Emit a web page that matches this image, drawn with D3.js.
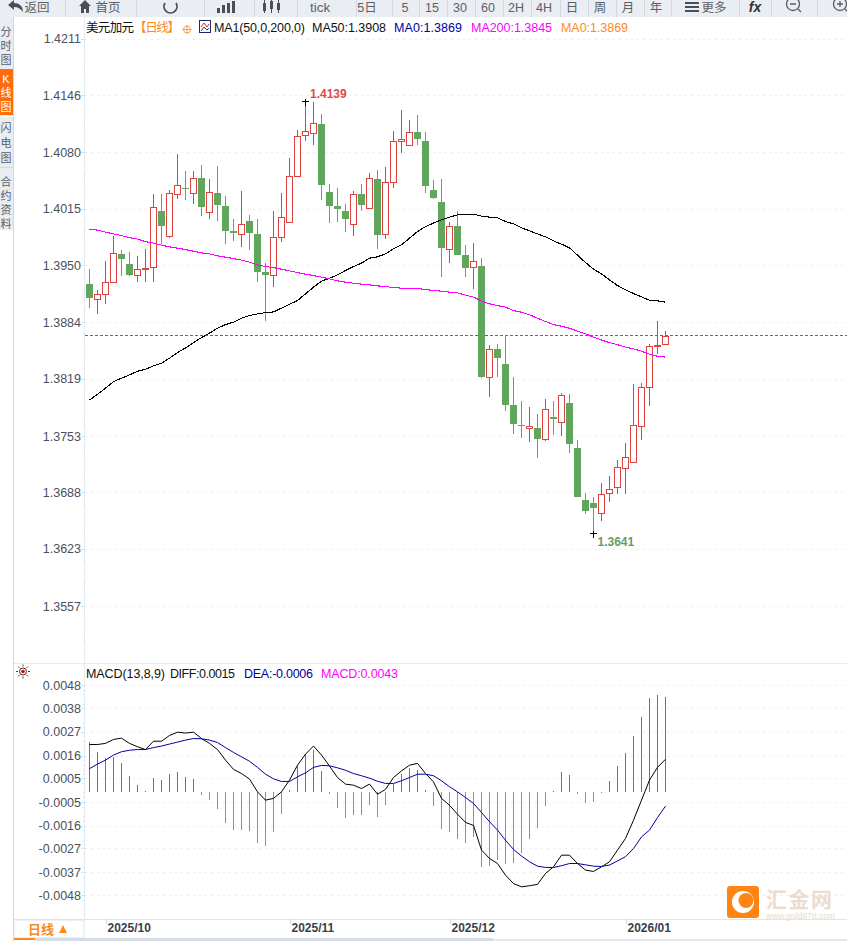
<!DOCTYPE html>
<html>
<head>
<meta charset="utf-8">
<title>美元加元 日线</title>
<script src="https://cdn.jsdelivr.net/npm/d3@7"></script>
<style>
    html, body { margin: 0; padding: 0; background: #fff; }
    svg { display: block; }
    text { font-family: "Liberation Sans", "Noto Sans CJK SC", sans-serif; }
</style>
</head>
<body>
<div id="chart"></div>
<script>
// --- Data ---
const opens = [1.39284, 1.39108, 1.39166, 1.39304, 1.39630, 1.39515, 1.39385, 1.39454, 1.39477, 1.40126,
    1.39841, 1.40319, 1.40388, 1.40337, 1.40507, 1.40111, 1.40334, 1.40184, 1.39892, 1.39858,
    1.40011, 1.39861, 1.39423, 1.39385, 1.39823, 1.40003, 1.40527, 1.41003, 1.41023, 1.41130,
    1.40345, 1.40184, 1.40126, 1.39973, 1.40322, 1.40164, 1.40495, 1.39858, 1.40457, 1.40930,
    1.40884, 1.41034, 1.40930, 1.40369, 1.40230, 1.39685, 1.39953, 1.39619, 1.39477, 1.39492,
    1.38208, 1.38535, 1.38362, 1.37889, 1.37662, 1.37627, 1.37623, 1.37493, 1.37750, 1.37689,
    1.37912, 1.37393, 1.36793, 1.36758, 1.36640, 1.36870, 1.36939, 1.37159, 1.37228, 1.37650,
    1.38093, 1.38566, 1.38589];
const closes = [1.39126, 1.39166, 1.39304, 1.39638, 1.39576, 1.39388, 1.39454, 1.39465, 1.40169, 1.39957,
    1.40330, 1.40423, 1.40380, 1.40504, 1.40176, 1.40342, 1.40199, 1.39899, 1.39876, 1.39973,
    1.39876, 1.39426, 1.39392, 1.39823, 1.40054, 1.40527, 1.40988, 1.41046, 1.41138, 1.40430,
    1.40187, 1.40149, 1.40038, 1.40319, 1.40199, 1.40504, 1.39853, 1.40457, 1.40930, 1.40953,
    1.41034, 1.40960, 1.40407, 1.40280, 1.39703, 1.39950, 1.39622, 1.39472, 1.39546, 1.38215,
    1.38531, 1.38434, 1.37892, 1.37673, 1.37655, 1.37643, 1.37500, 1.37839, 1.37731, 1.38001,
    1.37442, 1.36831, 1.36670, 1.36701, 1.36859, 1.36916, 1.37170, 1.37286, 1.37655, 1.38093,
    1.38566, 1.38581, 1.38680];
const highs = [1.39457, 1.39215, 1.39550, 1.39838, 1.39676, 1.39650, 1.39607, 1.39688, 1.40322, 1.40322,
    1.40369, 1.40784, 1.40588, 1.40588, 1.40657, 1.40495, 1.40645, 1.40299, 1.40034, 1.40357,
    1.40080, 1.40034, 1.39523, 1.40126, 1.40334, 1.40734, 1.41061, 1.41390, 1.41384, 1.41245,
    1.40438, 1.40392, 1.40207, 1.40357, 1.40438, 1.40561, 1.40599, 1.40630, 1.41049, 1.41291,
    1.41176, 1.41234, 1.41038, 1.40484, 1.40495, 1.39999, 1.40123, 1.39734, 1.39754, 1.39584,
    1.38581, 1.38592, 1.38696, 1.38212, 1.37935, 1.37866, 1.37785, 1.37958, 1.37935, 1.38024,
    1.38016, 1.37485, 1.36874, 1.36828, 1.36989, 1.37070, 1.37254, 1.37450, 1.38131, 1.38139,
    1.38592, 1.38858, 1.38742];
const lows = [1.39008, 1.38938, 1.39054, 1.39304, 1.39377, 1.39377, 1.39311, 1.39311, 1.39311, 1.39746,
    1.39811, 1.40268, 1.40253, 1.40207, 1.40069, 1.40038, 1.40011, 1.39746, 1.39780, 1.39711,
    1.39676, 1.39311, 1.38861, 1.39253, 1.39769, 1.39991, 1.40527, 1.40926, 1.40888, 1.40253,
    1.39991, 1.39999, 1.39888, 1.39841, 1.40130, 1.40146, 1.39692, 1.39800, 1.40384, 1.40799,
    1.40884, 1.40891, 1.40337, 1.40265, 1.39369, 1.39530, 1.39622, 1.39369, 1.39230, 1.38204,
    1.37984, 1.38215, 1.37823, 1.37554, 1.37512, 1.37462, 1.37277, 1.37474, 1.37543, 1.37531,
    1.37335, 1.36831, 1.36632, 1.36410, 1.36554, 1.36770, 1.36866, 1.36866, 1.37228, 1.37489,
    1.37877, 1.38477, 1.38589];

const ma50 = [1.37943, 1.38012, 1.38081, 1.38157, 1.38197, 1.38235, 1.38277, 1.38300, 1.38339, 1.38370,
    1.38427, 1.38492, 1.38546, 1.38607, 1.38665, 1.38716, 1.38773, 1.38815, 1.38843, 1.38889,
    1.38919, 1.38938, 1.38953, 1.38961, 1.39004, 1.39050, 1.39092, 1.39169, 1.39246, 1.39315,
    1.39350, 1.39388, 1.39438, 1.39484, 1.39523, 1.39581, 1.39596, 1.39630, 1.39688, 1.39734,
    1.39811, 1.39888, 1.39945, 1.39985, 1.40023, 1.40054, 1.40080, 1.40088, 1.40088, 1.40065,
    1.40054, 1.40046, 1.40003, 1.39976, 1.39930, 1.39896, 1.39861, 1.39826, 1.39780, 1.39742,
    1.39700, 1.39615, 1.39530, 1.39454, 1.39400, 1.39330, 1.39265, 1.39215, 1.39173, 1.39134,
    1.39096, 1.39088, 1.39073];
const ma200 = [1.39915, 1.39904, 1.39881, 1.39861, 1.39841, 1.39818, 1.39800, 1.39772, 1.39754, 1.39731,
    1.39711, 1.39696, 1.39680, 1.39661, 1.39642, 1.39630, 1.39607, 1.39592, 1.39576, 1.39558,
    1.39535, 1.39503, 1.39484, 1.39472, 1.39454, 1.39434, 1.39415, 1.39396, 1.39380, 1.39362,
    1.39342, 1.39319, 1.39304, 1.39292, 1.39281, 1.39273, 1.39261, 1.39253, 1.39242, 1.39235,
    1.39235, 1.39230, 1.39219, 1.39207, 1.39200, 1.39189, 1.39181, 1.39154, 1.39131, 1.39088,
    1.39054, 1.39034, 1.39016, 1.38976, 1.38958, 1.38927, 1.38889, 1.38850, 1.38815, 1.38796,
    1.38773, 1.38739, 1.38708, 1.38670, 1.38638, 1.38607, 1.38584, 1.38554, 1.38535, 1.38508,
    1.38474, 1.38450, 1.38439];

const macdDiff = [0.00215, 0.00215, 0.00220, 0.00238, 0.00244, 0.00220, 0.00205, 0.00192, 0.00230, 0.00230,
    0.00256, 0.00271, 0.00267, 0.00271, 0.00242, 0.00220, 0.00192, 0.00144, 0.00102, 0.00083,
    0.00058, 0, -0.00038, -0.00030, 0, 0.00053, 0.00121, 0.00171, 0.00208, 0.00167,
    0.00117, 0.00065, 0.00035, 0.00030, 0.00015, 0.00035, -0.00011, 0.00011, 0.00065, 0.00095,
    0.00121, 0.00129, 0.00083, 0.00045, -0.00030, -0.00061, -0.00102, -0.00139, -0.00153, -0.00265,
    -0.00303, -0.00326, -0.00379, -0.00417, -0.00432, -0.00427, -0.00421, -0.00371, -0.00341, -0.00288,
    -0.00288, -0.00326, -0.00356, -0.00362, -0.00341, -0.00318, -0.00265, -0.00212, -0.00129, -0.00038,
    0.00053, 0.00111, 0.00148];
const macdDea = [0.00105, 0.00126, 0.00144, 0.00167, 0.00182, 0.00189, 0.00192, 0.00192, 0.00201, 0.00208,
    0.00217, 0.00226, 0.00235, 0.00242, 0.00241, 0.00235, 0.00224, 0.00201, 0.00179, 0.00159,
    0.00139, 0.00111, 0.00080, 0.00059, 0.00047, 0.00047, 0.00068, 0.00086, 0.00111, 0.00120,
    0.00118, 0.00109, 0.00098, 0.00083, 0.00073, 0.00062, 0.00048, 0.00038, 0.00038, 0.00050,
    0.00065, 0.00080, 0.00080, 0.00073, 0.00050, 0.00023, 0, -0.00026, -0.00053, -0.00094,
    -0.00136, -0.00174, -0.00220, -0.00262, -0.00292, -0.00318, -0.00338, -0.00344, -0.00344, -0.00336,
    -0.00326, -0.00326, -0.00332, -0.00338, -0.00339, -0.00333, -0.00314, -0.00295, -0.00258, -0.00205,
    -0.00174, -0.00117, -0.00065];
const macdHist = [0.00227, 0.00182, 0.00153, 0.00159, 0.00132, 0.00071, 0.00030, 0.00003, 0.00064, 0.00053,
    0.00080, 0.00089, 0.00067, 0.00058, -0.00015, -0.00038, -0.00079, -0.00142, -0.00174, -0.00174,
    -0.00179, -0.00233, -0.00247, -0.00183, -0.00102, 0.00008, 0.00117, 0.00171, 0.00192, 0.00095,
    -0.00012, -0.00074, -0.00118, -0.00106, -0.00106, -0.00061, -0.00114, -0.00061, 0.00035, 0.00083,
    0.00106, 0.00098, 0.00008, -0.00064, -0.00170, -0.00182, -0.00215, -0.00232, -0.00205, -0.00341,
    -0.00336, -0.00311, -0.00329, -0.00323, -0.00280, -0.00215, -0.00165, -0.00064, 0.00003, 0.00089,
    0.00076, -0.00008, -0.00050, -0.00045, -0.00005, 0.00048, 0.00117, 0.00176, 0.00253, 0.00339,
    0.00426, 0.00439, 0.00430];

const priceTicks = [1.4211, 1.4146, 1.4080, 1.4015, 1.3950, 1.3884, 1.3819, 1.3753, 1.3688, 1.3623, 1.3557];
const macdTicks = [0.00485, 0.00380, 0.00273, 0.00165, 0.00061, -0.00048, -0.00154, -0.00257, -0.00365, -0.00471];
const macdTickLabels = ["0.0048", "0.0038", "0.0027", "0.0016", "0.0005", "-0.0005", "-0.0016", "-0.0027", "-0.0037", "-0.0048"];
const dateTickIndex = [2, 25, 45, 67];
const dateTickLabels = ["2025/10", "2025/11", "2025/12", "2026/01"];

const lastPrice = 1.3869;
const highLabel = "1.4139";
const lowLabel = "1.3641";

// Colours
const red = "#db4440";
const green = "#60a65c";
const histRed = "#c4524c";
const histGreen = "#6fa566";
const orange = "#fb8a1e";
const magenta = "#ff00ff";
const navy = "#0000a0";

const width = 847;
const height = 941;
const plotLeft = 85;

const svg = d3.select("#chart").append("svg")
    .attr("width", width)
    .attr("height", height);

// Scales
const x = d3.scaleLinear().domain([0, opens.length - 1]).range([89.5, 665.5]);
const yPrice = d3.scaleLinear().domain([1.3557, 1.4211]).range([606, 38.8]);
const yMacd = d3.scaleLinear().domain([-0.0048, 0.0048]).range([897.4, 686.2]);

// --- Frame ---
svg.append("rect").attr("x", 0).attr("y", 17).attr("width", 14).attr("height", 213).attr("fill", "#e9ecf1");
svg.append("rect").attr("x", 13).attr("y", 17).attr("width", 1).attr("height", 924).attr("fill", "#cfd9e4");
svg.append("rect").attr("x", 84).attr("y", 17).attr("width", 1).attr("height", 903).attr("fill", "#e3ebf2");
svg.append("rect").attr("x", 14).attr("y", 663).attr("width", width - 14).attr("height", 1).attr("fill", "#e6ebf1");
svg.append("rect").attr("x", 14).attr("y", 919).attr("width", width - 14).attr("height", 1).attr("fill", "#e1e5ea");

// --- Price panel ---
function drawAxis(scale, ticks, labels, minorCount) {
    const axis = svg.append("g")
        .attr("transform", `translate(${plotLeft},0)`)
        .call(d3.axisLeft(scale)
            .tickValues(ticks)
            .tickSize(4)
            .tickPadding(0)
            .tickFormat((d, i) => labels[i]));
    axis.select(".domain").remove();
    axis.selectAll("line").attr("stroke", "#cfe3f2").attr("shape-rendering", "crispEdges");
    axis.selectAll("text")
        .attr("font-size", 12.5)
        .attr("font-family", "Liberation Sans")
        .attr("fill", "#4a5160");

    // dotted grid lines
    svg.append("g")
        .selectAll("line")
        .data(ticks)
        .join("line")
        .attr("x1", plotLeft)
        .attr("x2", width)
        .attr("y1", d => Math.round(scale(d)) + 0.5)
        .attr("y2", d => Math.round(scale(d)) + 0.5)
        .attr("stroke", "#ececec")
        .attr("stroke-dasharray", "2,4");

    // small ticks between the labelled ones
    const step = (ticks[0] - ticks[ticks.length - 1]) / (ticks.length - 1) / (minorCount + 1);
    const minor = [];
    ticks.forEach(t => d3.range(1, minorCount + 1).forEach(k => minor.push(t - k * step)));
    svg.append("g")
        .selectAll("rect")
        .data(minor)
        .join("rect")
        .attr("x", plotLeft - 2)
        .attr("y", d => Math.round(scale(d)))
        .attr("width", 2)
        .attr("height", 1)
        .attr("fill", "#dfe7ee");
}

drawAxis(yPrice, priceTicks, priceTicks.map(d3.format(".4f")), 4);

// last price line
svg.append("line")
    .attr("x1", plotLeft)
    .attr("x2", width)
    .attr("y1", Math.round(yPrice(lastPrice)) + 0.5)
    .attr("y2", Math.round(yPrice(lastPrice)) + 0.5)
    .attr("stroke", "#0080ff")
    .attr("stroke-width", 1)
    .attr("stroke-dasharray", "3,2")
    .attr("shape-rendering", "crispEdges");

const candles = d3.range(opens.length).map(i => ({
    i: i,
    open: opens[i],
    close: closes[i],
    high: highs[i],
    low: lows[i],
    up: closes[i] >= opens[i]
}));

const candle = svg.append("g")
    .attr("shape-rendering", "crispEdges")
    .selectAll("g")
    .data(candles)
    .join("g");

candle.append("line")
    .attr("x1", d => x(d.i))
    .attr("x2", d => x(d.i))
    .attr("y1", d => Math.round(yPrice(d.high)))
    .attr("y2", d => Math.round(yPrice(d.low)))
    .attr("stroke", d => d.up ? red : green);

candle.append("rect")
    .attr("x", d => d.up ? x(d.i) - 3 : x(d.i) - 3.5)
    .attr("y", d => Math.round(yPrice(Math.max(d.open, d.close))) + (d.up ? 0.5 : 0))
    .attr("width", d => d.up ? 6 : 7)
    .attr("height", d => Math.max(Math.round(yPrice(Math.min(d.open, d.close))) - Math.round(yPrice(Math.max(d.open, d.close))), 1))
    .attr("fill", d => d.up ? "#fff" : green)
    .attr("stroke", d => d.up ? red : "none");

const priceLine = series => d3.line()
    .x((d, i) => x(i))
    .y(d => yPrice(d))(series);

svg.append("path")
    .attr("d", priceLine(ma50))
    .attr("fill", "none")
    .attr("stroke", "#000")
    .attr("stroke-width", 1.1)
    .attr("shape-rendering", "crispEdges");

svg.append("path")
    .attr("d", priceLine(ma200))
    .attr("fill", "none")
    .attr("stroke", magenta)
    .attr("stroke-width", 1.1)
    .attr("shape-rendering", "crispEdges");

// high / low markers
const highIndex = d3.greatestIndex(highs);
const lowIndex = d3.leastIndex(lows);

function crossMark(px, py) {
    svg.append("path")
        .attr("d", `M${px - 3},${py}H${px + 4}M${px + 0.5},${py - 3}V${py + 4}`)
        .attr("stroke", "#000")
        .attr("shape-rendering", "crispEdges");
}
crossMark(Math.floor(x(highIndex)), Math.round(yPrice(highs[highIndex])) + 0.5);
crossMark(Math.floor(x(lowIndex)), Math.round(yPrice(lows[lowIndex])) + 0.5);

svg.append("text")
    .attr("x", x(highIndex) + 4.5)
    .attr("y", yPrice(highs[highIndex]) - 3.5)
    .attr("font-size", 12)
    .attr("font-weight", "bold")
    .attr("fill", "#e0494a")
    .text(highLabel);

svg.append("text")
    .attr("x", x(lowIndex) + 4)
    .attr("y", yPrice(lows[lowIndex]) + 12.5)
    .attr("font-size", 12)
    .attr("font-weight", "bold")
    .attr("fill", "#5fa064")
    .text(lowLabel);

// price legend
function legend(items, y, size) {
    const group = svg.append("g").attr("font-size", size);
    items.forEach(item => {
        group.append("text")
            .attr("x", item.x)
            .attr("y", y)
            .attr("fill", item.color)
            .attr("textLength", item.w)
            .text(item.text);
    });
}

legend([
    { text: "美元加元", x: 86, w: 48, color: "#111" },
    { text: "【日线】", x: 134, w: 46, color: orange },
    { text: "MA1(50,0,200,0)", x: 214, w: 91, color: "#111" },
    { text: "MA50:1.3908", x: 312, w: 74, color: "#111" },
    { text: "MA0:1.3869", x: 394, w: 68, color: navy },
    { text: "MA200:1.3845", x: 471, w: 81, color: magenta },
    { text: "MA0:1.3869", x: 561, w: 67, color: orange }
], 32, 12.5);

// small crosshair circle after the title
svg.append("g")
    .attr("fill", "none")
    .attr("stroke", orange)
    .attr("stroke-width", 0.8)
    .call(g => g.append("circle").attr("cx", 187).attr("cy", 29.5).attr("r", 3.5))
    .call(g => g.append("path").attr("d", "M182.5,29.5H191.5M187,25V34"));

// MA icon
const maIcon = svg.append("g").attr("transform", "translate(199,20)");
maIcon.append("rect").attr("x", 0.5).attr("y", 0.5).attr("width", 11).attr("height", 12).attr("fill", "#fff").attr("stroke", "#1c2b6b");
maIcon.append("path").attr("d", "M2,7L5,3L8,7L10,4").attr("fill", "none").attr("stroke", "#d03030").attr("stroke-width", 1);
maIcon.append("path").attr("d", "M2,11L5,7L8,10L10,8").attr("fill", "none").attr("stroke", "#2040b0").attr("stroke-width", 1);

// --- MACD panel ---
drawAxis(yMacd, macdTicks, macdTickLabels, 4);

svg.append("g")
    .attr("shape-rendering", "crispEdges")
    .selectAll("line")
    .data(macdHist)
    .join("line")
    .attr("x1", (d, i) => x(i))
    .attr("x2", (d, i) => x(i))
    .attr("y1", yMacd(0))
    .attr("y2", d => yMacd(d))
    .attr("stroke", d => d >= 0 ? histRed : histGreen);

const macdLine = series => d3.line()
    .x((d, i) => x(i))
    .y(d => yMacd(d))(series);

svg.append("path")
    .attr("d", macdLine(macdDiff))
    .attr("fill", "none")
    .attr("stroke", "#000")
    .attr("stroke-width", 1);

svg.append("path")
    .attr("d", macdLine(macdDea))
    .attr("fill", "none")
    .attr("stroke", navy)
    .attr("stroke-width", 1);

legend([
    { text: "MACD(13,8,9)", x: 86, w: 79, color: "#111" },
    { text: "DIFF:0.0015", x: 170, w: 65, color: "#111" },
    { text: "DEA:-0.0006", x: 244, w: 69, color: navy },
    { text: "MACD:0.0043", x: 321, w: 77, color: magenta }
], 677.5, 12.5);

// sun icon next to the MACD panel
const sun = svg.append("g").attr("transform", "translate(23,671.5)");
sun.append("circle").attr("r", 3.5).attr("fill", "#fff").attr("stroke", "#000").attr("stroke-width", 0.8);
sun.append("circle").attr("r", 1.8).attr("fill", "#e00000");
sun.selectAll("line")
    .data(d3.range(8))
    .join("line")
    .attr("x1", d => 5 * Math.cos(d * Math.PI / 4))
    .attr("y1", d => 5 * Math.sin(d * Math.PI / 4))
    .attr("x2", d => 7 * Math.cos(d * Math.PI / 4))
    .attr("y2", d => 7 * Math.sin(d * Math.PI / 4))
    .attr("stroke", "#e00000");

// --- Date axis ---
const dateAxis = svg.append("g")
    .attr("transform", "translate(0,919)")
    .call(d3.axisBottom(x)
        .tickValues(dateTickIndex)
        .tickSize(6)
        .tickPadding(0)
        .tickFormat((d, i) => dateTickLabels[i]));
dateAxis.select(".domain").remove();
dateAxis.selectAll("line").attr("stroke", "#d5dbe2").attr("shape-rendering", "crispEdges");
dateAxis.selectAll("text")
    .attr("font-size", 12)
    .attr("font-weight", "bold")
    .attr("font-family", "Liberation Sans")
    .attr("fill", "#3a3f4a")
    .attr("text-anchor", "start")
    .attr("dx", 1.5)
    .attr("y", 4)
    .attr("dy", "0.71em");

// period tab under the axis
svg.append("rect").attr("x", 14).attr("y", 920).attr("width", 70).attr("height", 18)
    .attr("fill", "#fff").attr("stroke", "#dde2e8");
svg.append("text").attr("x", 28).attr("y", 934).attr("font-size", 13).attr("font-weight", "bold").attr("fill", orange).text("日线");
svg.append("path").attr("d", "M59,933L63,925L67,933Z").attr("fill", orange);
svg.append("rect").attr("x", 14).attr("y", 938).attr("width", 21).attr("height", 2).attr("fill", orange);
svg.append("rect").attr("x", 35).attr("y", 938).attr("width", 458).attr("height", 3).attr("fill", "#d5dce5");
svg.append("rect").attr("x", 493).attr("y", 939).attr("width", width - 493).attr("height", 2).attr("fill", "#e4e8ee");

// --- Side tabs ---
svg.append("rect").attr("x", 0).attr("y", 69).attr("width", 13).attr("height", 46).attr("fill", "#ff6c0a");
svg.append("rect").attr("x", 0).attr("y", 116).attr("width", 13).attr("height", 1).attr("fill", "#fff");
svg.append("rect").attr("x", 0).attr("y", 167).attr("width", 13).attr("height", 1).attr("fill", "#d7dbe1");

const sideTabs = [
    { chars: "分时图", ys: [36, 50, 64], color: "#5a5f68" },
    { chars: "K线图", ys: [83, 97, 111], color: "#fff" },
    { chars: "闪电图", ys: [132, 147, 162], color: "#5a5f68" },
    { chars: "合约资料", ys: [186, 200, 214, 228], color: "#5a5f68" }
];
sideTabs.forEach(tab => {
    Array.from(tab.chars).forEach((ch, i) => {
        svg.append("text")
            .attr("x", 6)
            .attr("y", tab.ys[i])
            .attr("text-anchor", "middle")
            .attr("font-size", 11)
            .attr("fill", tab.color)
            .text(ch);
    });
});

// --- Toolbar ---
svg.append("rect").attr("x", 0).attr("y", 0).attr("width", width).attr("height", 17).attr("fill", "#eaedf2");
const toolbarDividers = [65, 136, 204, 254, 297, 356, 392, 419, 447, 475, 503, 531, 560, 588, 616, 644, 671, 739, 771, 817];
svg.append("g")
    .selectAll("rect")
    .data(toolbarDividers)
    .join("rect")
    .attr("x", d => d)
    .attr("y", 0)
    .attr("width", 1)
    .attr("height", 17)
    .attr("fill", "#d3d7de");

const toolbarLabels = [
    ["返回", 37], ["首页", 108], ["tick", 320], ["5日", 367], ["5", 405], ["15", 432], ["30", 460],
    ["60", 488], ["2H", 516], ["4H", 544], ["日", 572], ["周", 600], ["月", 628], ["年", 656], ["更多", 714]
];
svg.append("g")
    .selectAll("text")
    .data(toolbarLabels)
    .join("text")
    .attr("x", d => d[1])
    .attr("y", 12)
    .attr("text-anchor", "middle")
    .attr("font-size", d => d[0] === "tick" ? 13.5 : 12.5)
    .attr("fill", "#5a5f68")
    .text(d => d[0]);

const icons = svg.append("g").attr("fill", "#4a4f57");
// back arrow
icons.append("path").attr("d", "M8,5L14,0V3C19,3 23,6 23,12C21,9 18,7 14,7V10Z");
// home
icons.append("path").attr("d", "M79,6L85,0L91,6H89V13H86V9H84V13H81V6Z");
// refresh
icons.append("path").attr("d", "M176,3A6.5,6.5 0 1 1 165,3").attr("fill", "none").attr("stroke", "#4a4f57").attr("stroke-width", 1.8);
// bars with a line
icons.append("path").attr("d", "M217,13V8H220V13ZM222,13V5H225V13ZM227,13V3H230V13ZM232,13V1H235V13Z");
// candles
icons.append("path").attr("d", "M263,3H266V11H263ZM264,0H265V13H264ZM270,1H273V9H270ZM271,0H272V13H271ZM277,3H280V10H277ZM278,0H279V13H278Z");
// list
icons.append("path").attr("d", "M685,2H699V4H685ZM685,6H699V8H685ZM685,10H699V12H685Z");
// zoom circles
icons.append("g").attr("fill", "none").attr("stroke", "#5a5f68").attr("stroke-width", 1.3)
    .call(g => g.append("circle").attr("cx", 793).attr("cy", 4).attr("r", 6.5))
    .call(g => g.append("path").attr("d", "M790,4H796M798,9L801,12"))
    .call(g => g.append("circle").attr("cx", 840).attr("cy", 4).attr("r", 6.5))
    .call(g => g.append("path").attr("d", "M837,4H843M840,1V7M845,9L848,12"));

svg.append("text")
    .attr("x", 755).attr("y", 12)
    .attr("text-anchor", "middle")
    .attr("font-size", 14)
    .attr("font-weight", "bold")
    .attr("font-style", "italic")
    .attr("fill", "#333")
    .text("fx");

// --- Watermark ---
const mark = svg.append("g");
mark.append("rect").attr("x", 727).attr("y", 886).attr("width", 32).attr("height", 32).attr("rx", 3).attr("fill", "#ff8412");
mark.append("circle").attr("cx", 743).attr("cy", 902).attr("r", 11).attr("fill", "#fff");
mark.append("circle").attr("cx", 746).attr("cy", 900.5).attr("r", 7.5).attr("fill", "#ff8412");
mark.append("text")
    .attr("x", 766).attr("y", 907)
    .attr("font-size", 21)
    .attr("font-weight", "bold")
    .attr("letter-spacing", 1.5)
    .attr("fill", "#ecdccf")
    .text("汇金网");
mark.append("text")
    .attr("x", 766).attr("y", 918.5)
    .attr("font-size", 8.5)
    .attr("fill", "#e6dbd2")
    .text("www.gold678.com");
</script>
</body>
</html>
